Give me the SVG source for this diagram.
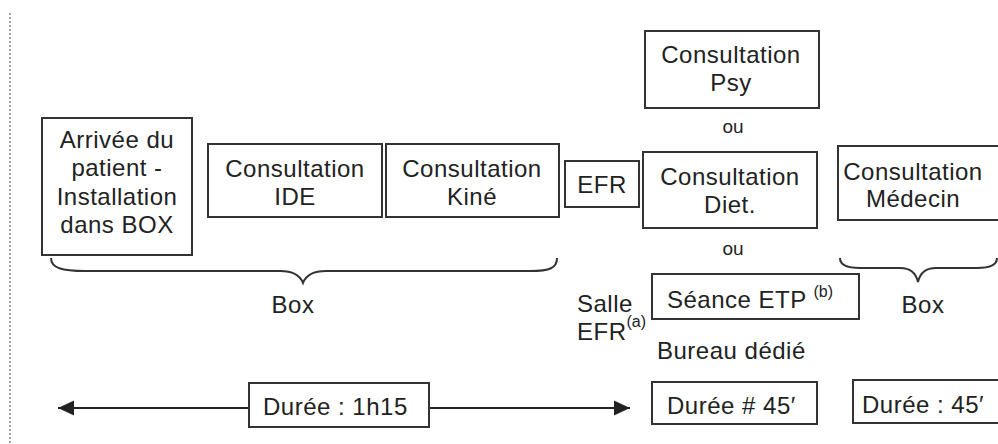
<svg xmlns="http://www.w3.org/2000/svg" width="998" height="444" viewBox="0 0 998 444">
<style>
  .box { fill: #fff; stroke: #333; stroke-width: 2; }
  .t { font-family: "Liberation Sans", Arial, sans-serif; font-size: 24px; fill: #222; letter-spacing: 0.5px; }
  .c { text-anchor: middle; }
  .ou { font-family: "Liberation Sans", Arial, sans-serif; font-size: 19px; fill: #222; text-anchor: middle; }
  .sup { font-size: 16px; letter-spacing: 0; }
  .brace { fill: none; stroke: #333; stroke-width: 2; }
  .arrow { fill: none; stroke: #222; stroke-width: 2; }
</style>
<defs>
  <marker id="ah" viewBox="0 0 16 16" markerUnits="userSpaceOnUse" markerWidth="16" markerHeight="16" refX="16" refY="8" orient="auto-start-reverse">
    <path d="M0,0.5 L16,8 L0,15.5 Z" fill="#222"/>
  </marker>
</defs>
<rect width="998" height="444" fill="#fff"/>
<line x1="10" y1="13" x2="10" y2="444" stroke="#666" stroke-width="1.2" stroke-dasharray="2,2"/>

<g id="arrivee">
  <rect class="box" x="42" y="118" width="150" height="137"/>
  <text class="t c" x="117" y="148">Arrivée du</text>
  <text class="t c" x="117" y="176">patient -</text>
  <text class="t c" x="117" y="205">Installation</text>
  <text class="t c" x="117" y="233">dans BOX</text>
</g>
<g id="ide">
  <rect class="box" x="208" y="144" width="174" height="73"/>
  <text class="t c" x="295" y="177">Consultation</text>
  <text class="t c" x="295" y="205">IDE</text>
</g>
<g id="kine">
  <rect class="box" x="386" y="144" width="173" height="73"/>
  <text class="t c" x="472" y="177">Consultation</text>
  <text class="t c" x="472" y="205">Kiné</text>
</g>
<g id="efr">
  <rect class="box" x="565" y="161" width="74" height="46"/>
  <text class="t c" x="602" y="193">EFR</text>
</g>
<g id="psy">
  <rect class="box" x="645" y="31" width="174" height="77"/>
  <text class="t c" x="731" y="63">Consultation</text>
  <text class="t c" x="731" y="91">Psy</text>
</g>
<text class="ou" x="733" y="133">ou</text>
<g id="diet">
  <rect class="box" x="643" y="152" width="174" height="76"/>
  <text class="t c" x="730" y="185">Consultation</text>
  <text class="t c" x="730" y="213">Diet.</text>
</g>
<text class="ou" x="733" y="255">ou</text>
<g id="medecin">
  <rect class="box" x="838" y="146" width="172" height="74"/>
  <text class="t c" x="913" y="180">Consultation</text>
  <text class="t c" x="913" y="207">Médecin</text>
</g>
<g id="etp">
  <rect class="box" x="652" y="274" width="207" height="45"/>
  <text class="t" x="667" y="308">Séance ETP <tspan class="sup" dy="-11">(b)</tspan></text>
</g>

<g id="connectors">
  <path class="brace" d="M51,258 C51,268 62,271 85,271 L280,271 C292,271 300,275 303,283 C306,275 314,271 326,271 L530,271 C550,271 557,268 557,258"/>
  <path class="brace" d="M840,258 C840,265 848,268 860,268 L900,268 C910,268 916,273 918,282 C920,273 926,268 936,268 L977,268 C989,268 997,265 997,258"/>
  <line class="arrow" x1="249" y1="408" x2="58" y2="408" marker-end="url(#ah)"/>
  <line class="arrow" x1="429" y1="408" x2="630" y2="408" marker-end="url(#ah)"/>
</g>

<text class="t c" x="293" y="313">Box</text>
<text class="t c" x="923" y="313">Box</text>
<text class="t" x="577" y="312">Salle</text>
<text class="t" x="577" y="340">EFR<tspan class="sup" dy="-13">(a)</tspan></text>
<text class="t" x="657" y="359">Bureau dédié</text>

<g id="duree1">
  <rect class="box" x="249" y="383" width="180" height="44"/>
  <text class="t" x="263" y="415">Durée : 1h15</text>
</g>
<g id="duree2">
  <rect class="box" x="652" y="382" width="165" height="42"/>
  <text class="t" x="667" y="414">Durée # 45′</text>
</g>
<g id="duree3">
  <rect class="box" x="853" y="380" width="160" height="43"/>
  <text class="t" x="862" y="413">Durée : 45′</text>
</g>
</svg>
